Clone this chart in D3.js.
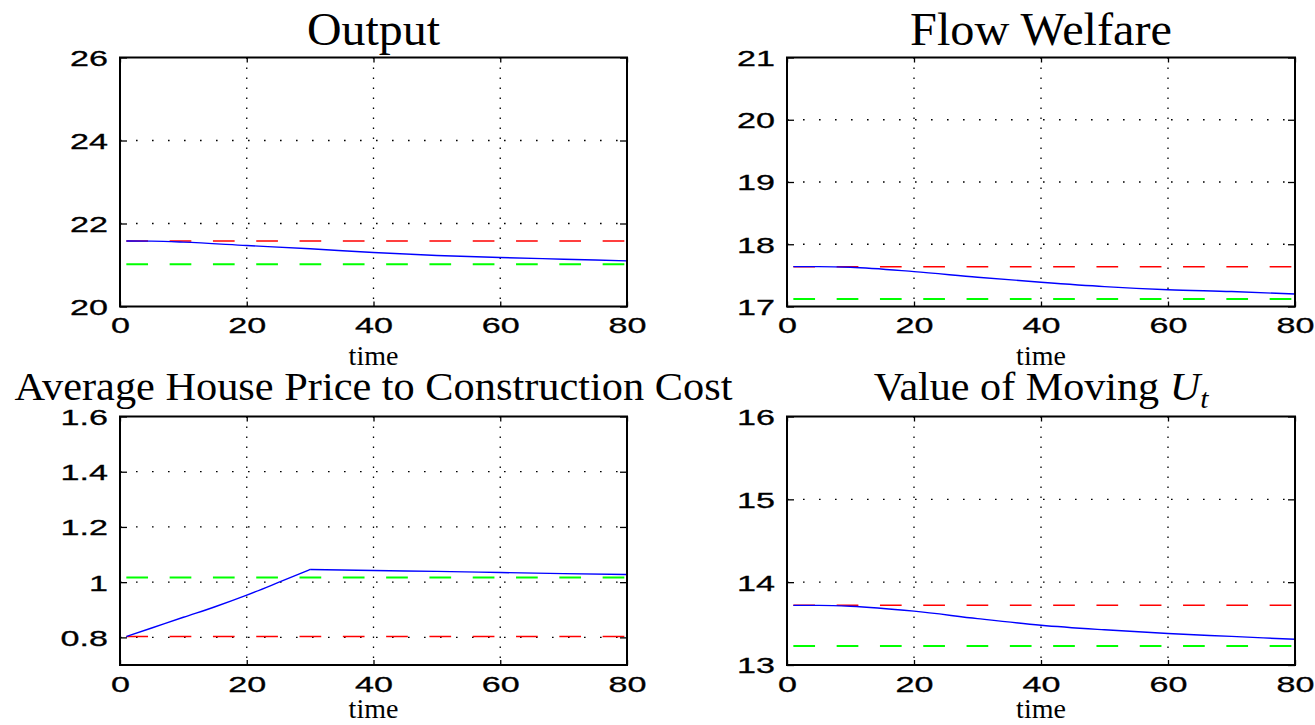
<!DOCTYPE html>
<html>
<head>
<meta charset="utf-8">
<script src="https://cdn.jsdelivr.net/npm/d3@7"></script>
<style>
    body { margin: 0; background: #fff; }
    text { fill: #000; }
</style>
</head>
<body>
<svg id="chart" width="1315" height="725"></svg>
<script>
// Values
const xTicks = [0, 20, 40, 60, 80];

const outputTime = [1, 5, 10, 20, 30, 40, 50, 60, 70, 80];
const outputPath = [21.58, 21.575, 21.55, 21.47, 21.39, 21.30, 21.23, 21.18, 21.14, 21.10];
const outputOld = 21.58;
const outputNew = 21.02;
const outputTicks = [20, 22, 24, 26];

const welfareTime = [1, 5, 10, 20, 30, 40, 50, 60, 70, 80];
const welfarePath = [17.64, 17.64, 17.63, 17.56, 17.47, 17.39, 17.32, 17.27, 17.24, 17.20];
const welfareOld = 17.64;
const welfareNew = 17.12;
const welfareTicks = [17, 18, 19, 20, 21];

const priceTime = [1, 5, 10, 15, 20, 25, 30, 40, 50, 60, 70, 80];
const pricePath = [0.803, 0.834, 0.873, 0.911, 0.953, 0.999, 1.046, 1.042, 1.039, 1.035, 1.031, 1.028];
const priceOld = 0.803;
const priceNew = 1.017;
const priceTicks = [0.8, 1, 1.2, 1.4, 1.6];
const priceKink = 30;  // price path turns at t = 30

const movingTime = [1, 5, 10, 20, 30, 40, 50, 60, 70, 80];
const movingPath = [13.72, 13.72, 13.71, 13.65, 13.56, 13.48, 13.425, 13.38, 13.345, 13.31];
const movingOld = 13.72;
const movingNew = 13.23;
const movingTicks = [13, 14, 15, 16];

const svg = d3.select("#chart");

// panel layout (pixel boxes of each axes)
const panels = [
    { title: "Output", titleWidth: 133, box: [120, 627, 57.5, 306.5], yDomain: [20, 26], yTicks: outputTicks,
      time: outputTime, path: outputPath, oldLevel: outputOld, newLevel: outputNew,
      titleSize: 47, titleY: 45 },
    { title: "Flow Welfare", titleWidth: 262, box: [787, 1295, 57.5, 306.5], yDomain: [17, 21], yTicks: welfareTicks,
      time: welfareTime, path: welfarePath, oldLevel: welfareOld, newLevel: welfareNew,
      titleSize: 47, titleY: 45 },
    { title: "Average House Price to Construction Cost", titleWidth: 718, box: [120, 627, 416.5, 665], yDomain: [0.7, 1.6], yTicks: priceTicks,
      time: priceTime, path: pricePath, oldLevel: priceOld, newLevel: priceNew, kink: priceKink,
      titleSize: 40, titleY: 400 },
    { title: "Value of Moving ", math: true, titleWidth: 336, box: [787, 1295, 416.5, 665], yDomain: [13, 16], yTicks: movingTicks,
      time: movingTime, path: movingPath, oldLevel: movingOld, newLevel: movingNew,
      titleSize: 40, titleY: 400 }
];

const labelScale = 1.55;

panels.forEach(drawPanel);

function drawPanel(p) {
    const [left, right, top, bottom] = p.box;
    const x = d3.scaleLinear().domain([0, 80]).range([left, right]);
    const y = d3.scaleLinear().domain(p.yDomain).range([bottom, top]);
    const g = svg.append("g");

    // dotted grid
    g.selectAll(".vgrid")
        .data(xTicks.slice(1, -1))
        .enter().append("line")
        .attr("x1", d => x(d)).attr("x2", d => x(d))
        .attr("y1", top).attr("y2", bottom)
        .attr("stroke", "#000").attr("stroke-width", 1.3)
        .attr("stroke-dasharray", "1.4,8.6");

    g.selectAll(".hgrid")
        .data(p.yTicks.filter(d => y(d) > top + 1 && y(d) < bottom - 1))
        .enter().append("line")
        .attr("x1", left).attr("x2", right)
        .attr("y1", d => y(d)).attr("y2", d => y(d))
        .attr("stroke", "#000").attr("stroke-width", 1.3)
        .attr("stroke-dasharray", "1.6,14.4");

    // reference levels: red = initial, green = final steady state
    const flat = (level) => p.time.map(t => [t, level]);
    const line = d3.line().x(d => x(d[0])).y(d => y(d[1]));

    g.append("path")
        .attr("d", line(flat(p.oldLevel)))
        .attr("fill", "none").attr("stroke", "#ff0000").attr("stroke-width", 1.5)
        .attr("stroke-dasharray", "21.7,21.6");

    g.append("path")
        .attr("d", line(flat(p.newLevel)))
        .attr("fill", "none").attr("stroke", "#00ff00").attr("stroke-width", 2)
        .attr("stroke-dasharray", "21.7,21.6");

    // transition path, smooth on each side of a kink
    const pts = p.time.map((t, i) => [t, p.path[i]]);
    const segments = p.kink
        ? [pts.filter(d => d[0] <= p.kink), pts.filter(d => d[0] >= p.kink)]
        : [pts];
    const smooth = d3.line().curve(d3.curveMonotoneX).x(d => x(d[0])).y(d => y(d[1]));
    segments.forEach(seg => {
        g.append("path")
            .attr("d", smooth(seg))
            .attr("fill", "none").attr("stroke", "#0000ff").attr("stroke-width", 1.4);
    });

    // axes with inward ticks on all sides
    const bottomAxis = g.append("g")
        .attr("transform", "translate(0," + bottom + ")")
        .call(d3.axisBottom(x).tickValues(xTicks).tickSizeInner(-5).tickSizeOuter(0)
            .tickPadding(11).tickFormat(d => String(d)));

    const leftAxis = g.append("g")
        .attr("transform", "translate(" + left + ",0)")
        .call(d3.axisLeft(y).tickValues(p.yTicks).tickSizeInner(-7).tickSizeOuter(0)
            .tickFormat(d => String(d)));

    g.append("g")
        .attr("transform", "translate(0," + top + ")")
        .call(d3.axisTop(x).tickValues(xTicks).tickSizeInner(-5).tickSizeOuter(0).tickFormat(""));

    g.append("g")
        .attr("transform", "translate(" + right + ",0)")
        .call(d3.axisRight(y).tickValues(p.yTicks).tickSizeInner(-7).tickSizeOuter(0).tickFormat(""));

    g.selectAll(".domain").remove();
    g.selectAll(".tick line").attr("stroke", "#000").attr("stroke-width", 1.3);

    g.selectAll(".tick text")
        .style("font-family", "'Liberation Sans', Arial, sans-serif")
        .style("font-size", "22px")
        .attr("stroke", "#000")
        .attr("stroke-width", 0.3);

    bottomAxis.selectAll(".tick text")
        .attr("x", 0)
        .attr("transform", "scale(" + labelScale + ",1)");

    leftAxis.selectAll(".tick text")
        .attr("x", -12 / labelScale)
        .attr("dy", "0.36em")
        .attr("transform", "scale(" + labelScale + ",1)");

    // box
    g.append("rect")
        .attr("x", left).attr("y", top)
        .attr("width", right - left).attr("height", bottom - top)
        .attr("fill", "none").attr("stroke", "#000").attr("stroke-width", 2);

    // x label
    g.append("text")
        .attr("x", (left + right) / 2)
        .attr("y", Math.min(bottom + 58, 718))
        .attr("text-anchor", "middle")
        .style("font-family", "'Liberation Serif', 'Times New Roman', serif")
        .style("font-size", "28px")
        .text("time");

    // title
    const cx = (left + right) / 2;
    const title = g.append("text")
        .attr("x", cx)
        .attr("y", p.titleY)
        .attr("text-anchor", "middle")
        .style("font-family", "'Liberation Serif', 'Times New Roman', serif")
        .style("font-size", p.titleSize + "px");
    title.append("tspan").text(p.title);
    if (p.math) {
        title.append("tspan").style("font-style", "italic").text("U");
        title.append("tspan").style("font-style", "italic").style("font-size", "28px")
            .attr("dy", 8).text("t");
    }
    // stretch title to the width seen in the figure
    const w = title.node().getBBox().width;
    const k = p.titleWidth / w;
    title.attr("transform", "translate(" + cx + ",0) scale(" + k + ",1) translate(" + (-cx) + ",0)");
}
</script>
</body>
</html>
